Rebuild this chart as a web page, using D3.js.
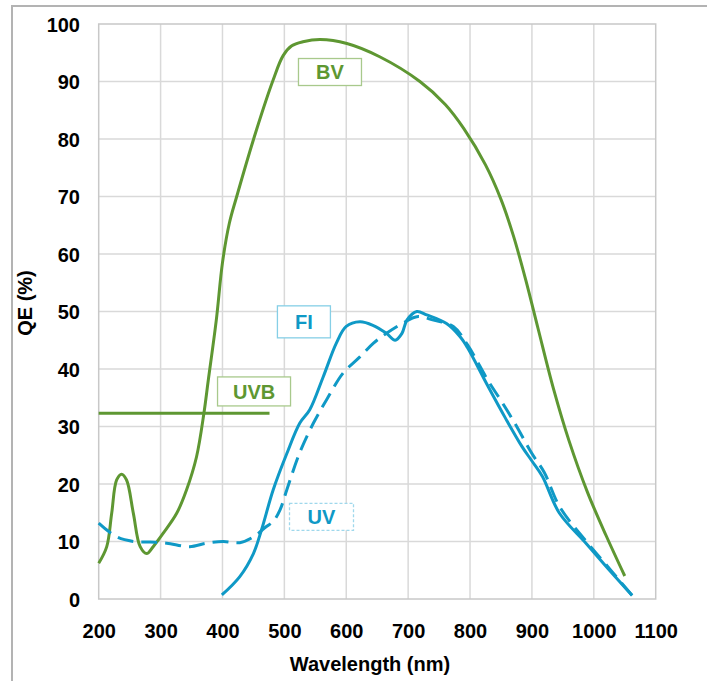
<!DOCTYPE html>
<html><head><meta charset="utf-8">
<script src="https://cdn.jsdelivr.net/npm/d3@7"></script>
<style>body{margin:0;background:#fff}svg{display:block}text{font-family:"Liberation Sans",Arial,sans-serif;font-weight:bold}</style>
</head><body><svg id="c" width="707" height="681"></svg>
<script>
const xTicks=[200,300,400,500,600,700,800,900,1000,1100];
const yTicks=[0,10,20,30,40,50,60,70,80,90,100];
const bvWl=[200,213,221,229,237,245,256,267,277.5,288,304,326,342,358,370,377,390,400,411,423,455,482,498,512,530,558,601,654,719,760,790,825,850,870,890,910,935,960,990,1020,1050];
const bvQE=[6.2,9.1,14.9,20.7,21.7,20.7,14.9,9.1,7.9,9.1,11.4,14.9,19,24.7,32.3,38,48.5,58.5,65.3,70,81.6,90.3,94.5,96.2,96.9,97.3,96.6,94.3,90,86,81.8,75.5,69.5,63.2,55.5,47,36.5,27.5,18.5,11,4];
const fiWl=[399,428,450,463,482,504,525,541,563,584,600,622,643,665,679,690,698,714,730,762,784,796,829,857,884,900,917,944,988,1026,1062];
const fiQE=[0.7,3.9,7.9,12,19,25.3,30.6,32.9,38.7,44.5,47.4,48.2,47.6,46.2,45,46.2,48.5,50,49.4,47.9,45.6,43.7,37,31.5,26.5,24,21.3,15,9.6,4.9,0.6];
const uvWl=[200,229,256,283,310,347,374,401,428,450,471,482,493,504,525,547,568,595,622,644,665,692,714,741,773,796,829,850,870,900,920,945,988,1026,1062];
const uvQE=[13.2,10.8,10,9.9,9.7,9.1,9.7,10,9.8,10.8,12.6,13.5,15.5,19,25.5,30.6,34.6,39.3,42.1,44.5,46.2,48,49.1,48.5,47.4,44.2,38,34.5,31,25.3,22,16,10,5.2,0.6];
const uvbWl=[200,476];
const uvbQE=[32.3,32.3];
const labels=[{t:"BV",wl:573.7,qe:91.65,w:63,h:27,c:"#5e9732",b:"#a8c98c",dash:null},
 {t:"UVB",wl:451,qe:36.1,w:73,h:29,c:"#5e9732",b:"#a8c98c",dash:null},
 {t:"FI",wl:531.6,qe:48.2,w:53,h:32,c:"#0f99c6",b:"#86cfe6",dash:null},
 {t:"UV",wl:560,qe:14.3,w:64,h:27,c:"#0f99c6",b:"#9fd8ec",dash:"3,2"}];

const svg=d3.select("#c");
const L=98.7,R=655.7,T=24,B=599;
const x=d3.scaleLinear().domain([200,1100]).range([L,R]);
const y=d3.scaleLinear().domain([0,100]).range([B,T]);
const green="#5e9732",blue="#0f99c6";

svg.append("path").attr("d","M12,690 L12,6 L720,6").attr("fill","none").attr("stroke","#b3b3b3").attr("stroke-width",2);

svg.append("g").selectAll("line").data(xTicks.slice(1,-1)).join("line")
 .attr("x1",d=>x(d)).attr("x2",d=>x(d)).attr("y1",T).attr("y2",B).attr("stroke","#d9d9d9").attr("stroke-width",1.5);
svg.append("g").selectAll("line").data(yTicks.slice(1,-1)).join("line")
 .attr("x1",L).attr("x2",R).attr("y1",d=>y(d)).attr("y2",d=>y(d)).attr("stroke","#d9d9d9").attr("stroke-width",1.5);
svg.append("rect").attr("x",L).attr("y",T).attr("width",R-L).attr("height",B-T).attr("fill","none").attr("stroke","#c8c8c8").attr("stroke-width",1.5);

const xa=d3.axisBottom(x).tickValues(xTicks).tickFormat(d3.format("d")).tickSize(0).tickPadding(0);
const gx=svg.append("g").attr("transform",`translate(0,${B})`).call(xa);
gx.select(".domain").remove();
gx.selectAll("text").attr("dy",null).attr("y",39).attr("font-size",20).attr("fill","#000").style("font-family","Liberation Sans, Arial").style("font-weight","bold");
const ya=d3.axisLeft(y).tickValues(yTicks).tickFormat(d3.format("d")).tickSize(0).tickPadding(0);
const gy=svg.append("g").attr("transform",`translate(80,0)`).call(ya);
gy.select(".domain").remove();
gy.selectAll("text").attr("dy","0.35em").attr("font-size",20).attr("fill","#000").style("font-family","Liberation Sans, Arial").style("font-weight","bold");

svg.append("text").attr("x",370).attr("y",671).attr("text-anchor","middle").attr("font-size",20).text("Wavelength (nm)");
svg.append("text").attr("transform","translate(32,303) rotate(-90)").attr("text-anchor","middle").attr("font-size",20).text("QE (%)");

const line=d3.line().x(d=>x(d[0])).y(d=>y(d[1])).curve(d3.curveCatmullRom.alpha(0.5));
const zip=(a,b)=>a.map((v,i)=>[v,b[i]]);
svg.append("path").attr("d",line(zip(bvWl,bvQE))).attr("fill","none").attr("stroke",green).attr("stroke-width",3);
svg.append("path").attr("d",d3.line().x(d=>x(d[0])).y(d=>y(d[1]))(zip(uvbWl,uvbQE))).attr("fill","none").attr("stroke",green).attr("stroke-width",3);
svg.append("path").attr("d",line(zip(uvWl,uvQE))).attr("fill","none").attr("stroke",blue).attr("stroke-width",3).attr("stroke-dasharray","16,8");
svg.append("path").attr("d",line(zip(fiWl,fiQE))).attr("fill","none").attr("stroke",blue).attr("stroke-width",3);

const lg=svg.append("g").selectAll("g").data(labels).join("g").attr("transform",d=>`translate(${x(d.wl)},${y(d.qe)})`);
lg.append("rect").attr("x",d=>-d.w/2).attr("y",d=>-d.h/2).attr("width",d=>d.w).attr("height",d=>d.h).attr("fill","#fff").attr("stroke",d=>d.b).attr("stroke-width",1.3).attr("stroke-dasharray",d=>d.dash);
lg.append("text").attr("text-anchor","middle").attr("dy","0.36em").attr("font-size",20).attr("fill",d=>d.c).text(d=>d.t);
</script></body></html>
